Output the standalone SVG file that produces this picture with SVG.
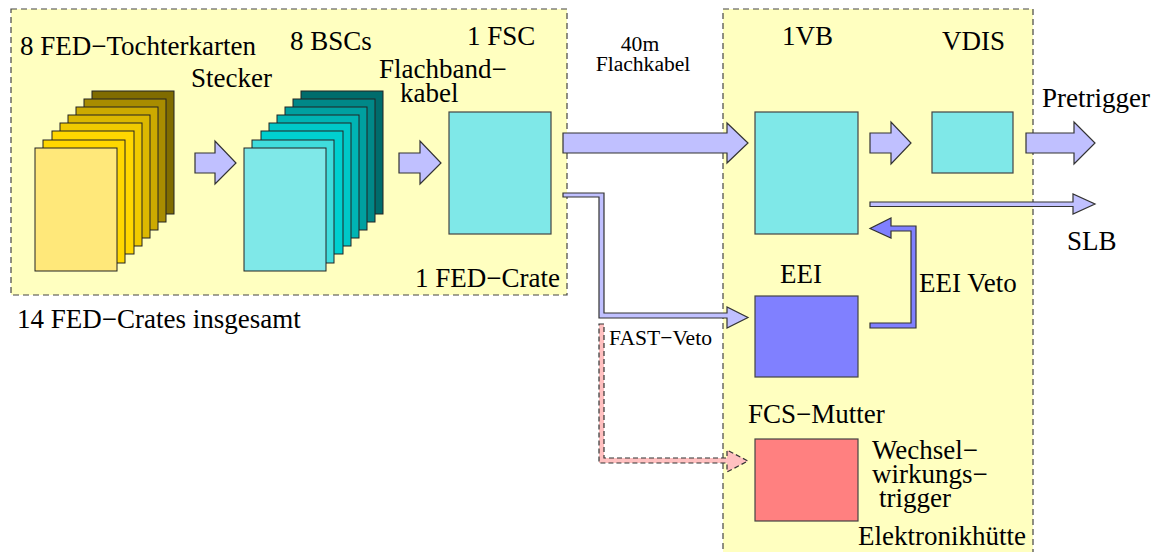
<svg xmlns="http://www.w3.org/2000/svg" width="1164" height="552" viewBox="0 0 1164 552">
<style>
.box{fill:#ffffc0;stroke:#444;stroke-width:1.2;stroke-dasharray:6,4}
.card{stroke:#222;stroke-width:1}
.node{stroke:#444;stroke-width:1.2}
.arr{fill:#c0c0ff;stroke:#333;stroke-width:1.2;stroke-linejoin:miter}
.t{font-family:'Liberation Serif','Times New Roman','DejaVu Serif',serif;font-size:27px;fill:#000}
.s{font-family:'Liberation Serif','Times New Roman','DejaVu Serif',serif;font-size:21.6px;fill:#000}
</style>
<rect width="1164" height="552" fill="#fff"/>
<g id="fed-crate">
<rect class="box" x="11" y="9" width="556" height="286"/>
<text class="t" x="415" y="287">1 FED−Crate</text>
</g>
<g id="elektronikhuette">
<rect class="box" x="723" y="9" width="310" height="550"/>
<text class="t" x="858" y="545">Elektronikhütte</text>
</g>
<g id="fed-tochterkarten">
<rect class="card" x="92" y="91" width="82" height="123" fill="#806c00"/>
<rect class="card" x="84" y="99" width="82" height="123" fill="#a88c00"/>
<rect class="card" x="76" y="107" width="82" height="123" fill="#ccaa00"/>
<rect class="card" x="68" y="115" width="82" height="123" fill="#dcb800"/>
<rect class="card" x="60" y="123" width="82" height="123" fill="#f0ca00"/>
<rect class="card" x="52" y="131" width="82" height="123" fill="#ffd700"/>
<rect class="card" x="43" y="140" width="82" height="123" fill="#ffd700"/>
<rect class="card" x="35" y="148" width="82" height="123" fill="#ffe87a"/>
<text class="t" x="20" y="55">8 FED−Tochterkarten</text>
</g>
<g id="bscs">
<rect class="card" x="301" y="91" width="82" height="123" fill="#006c6c"/>
<rect class="card" x="293" y="99" width="82" height="123" fill="#008888"/>
<rect class="card" x="285" y="107" width="82" height="123" fill="#00a0a0"/>
<rect class="card" x="277" y="115" width="82" height="123" fill="#00b4b4"/>
<rect class="card" x="269" y="123" width="82" height="123" fill="#00c8c8"/>
<rect class="card" x="261" y="131" width="82" height="123" fill="#00d0d0"/>
<rect class="card" x="252" y="140" width="82" height="123" fill="#40dcdc"/>
<rect class="card" x="244" y="148" width="82" height="123" fill="#7fe8e8"/>
<text class="t" x="290" y="50">8 BSCs</text>
</g>
<g id="fsc">
<rect class="node" x="449" y="112" width="102" height="122" fill="#7fe8e8"/>
<text class="t" x="467" y="45">1 FSC</text>
</g>
<g id="vb">
<rect class="node" x="755" y="112" width="103" height="122" fill="#7fe8e8"/>
<text class="t" x="782" y="45">1VB</text>
</g>
<g id="vdis">
<rect class="node" x="932" y="112" width="81" height="61" fill="#7fe8e8"/>
<text class="t" x="942" y="50">VDIS</text>
</g>
<g id="eei">
<rect class="node" x="755" y="296" width="103" height="81" fill="#8080ff"/>
<text class="t" x="780" y="283">EEI</text>
</g>
<g id="fcs-mutter">
<rect class="node" x="755" y="439" width="103" height="82" fill="#ff8080"/>
<text class="t" x="748" y="423">FCS−Mutter</text>
<text class="t" x="872" y="459">Wechsel−</text>
<text class="t" x="872" y="483">wirkungs−</text>
<text class="t" x="879" y="507">trigger</text>
</g>
<g id="connectors">
<polygon class="arr" points="195,153 215,153 215,141 236,163 215,184 215,173 195,173"/>
<text class="t" x="191" y="87">Stecker</text>
<polygon class="arr" points="399,153 420,153 420,141 441,163 420,184 420,173 399,173"/>
<text class="t" x="379" y="78">Flachband−</text>
<text class="t" x="400" y="102">kabel</text>
<polygon class="arr" points="563,133 727,133 727,123 748,143 727,163 727,153 563,153"/>
<text class="s" x="640" y="51" text-anchor="middle">40m</text>
<text class="s" x="643" y="71" text-anchor="middle">Flachkabel</text>
<polygon class="arr" points="870,133 891,133 891,122 911,143 891,164 891,153 870,153"/>
<polygon class="arr" points="1026,133 1074,133 1074,122 1095,143 1074,164 1074,153 1026,153"/>
<text class="t" x="1042" y="107">Pretrigger</text>
<polygon class="arr" points="870,202 1073,202 1073,194 1095,204 1073,214 1073,206.5 870,206.5"/>
<text class="t" x="1067" y="250">SLB</text>
<polygon class="arr" style="fill:#8080ff" points="870,323 911,323 911,231 891,231 891,238 870,228.5 891,218 891,226 916,226 916,328 870,328"/>
<text class="t" x="919" y="292">EEI Veto</text>
<polygon class="arr" points="563,193 604,193 604,313 727,313 727,307 748,317.5 727,328 727,318 599,318 599,197 563,197"/>
<text class="s" x="609" y="345">FAST−Veto</text>
<polygon class="arr" style="fill:#ffc0c0;stroke-dasharray:5,3" points="599,324 604,324 604,458 727,458 727,450 748,461 727,472 727,463 599,463"/>
</g>
<text class="t" x="17" y="328">14 FED−Crates insgesamt</text>
</svg>
